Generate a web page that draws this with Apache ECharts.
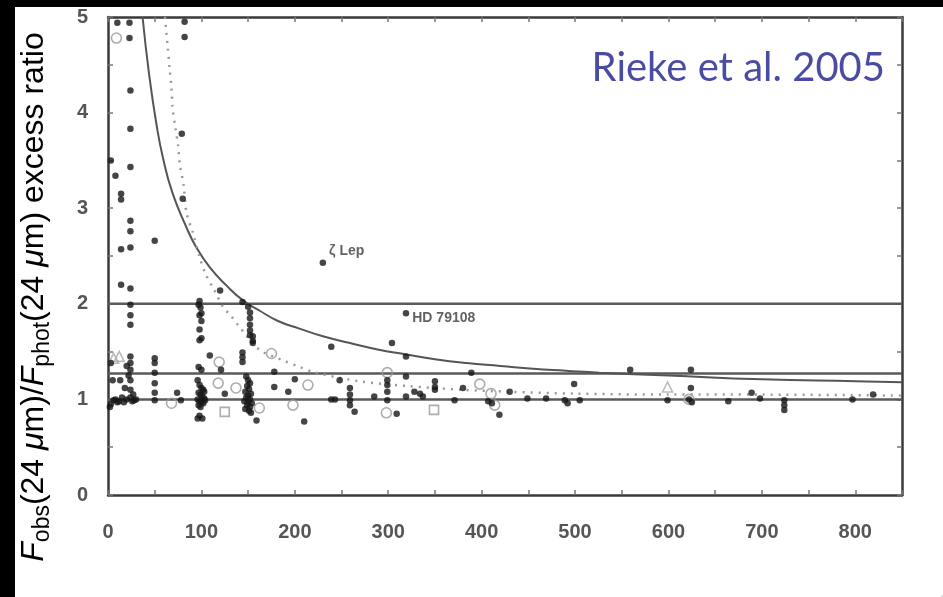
<!DOCTYPE html>
<html>
<head>
<meta charset="utf-8">
<title>24 μm excess ratio vs age</title>
<script src="https://cdn.jsdelivr.net/npm/echarts@6/dist/echarts.min.js"></script>
<style>
  html, body { margin: 0; padding: 0; background: #fff; overflow: hidden; }
  #wrap { position: relative; width: 943px; height: 597px; background: #fff; }
  #chart { position: absolute; left: 0; top: 0; width: 943px; height: 597px; }
  .band { position: absolute; background: #000; }
  /* tiny corner mark keeps the page edge defined */
  #corner { position: fixed; right: 0; bottom: 0; width: 2px; height: 2px; background: #ddd; pointer-events: none; }
</style>
</head>
<body>
<div id="wrap">
  <div id="chart"></div>
  <div class="band" style="left:0;top:0;width:943px;height:7px"></div>
  <div class="band" style="left:0;top:0;width:15px;height:597px"></div>
</div>
<div id="corner"></div>
<script>
// Tick labels
const xTickLabels = [0, 100, 200, 300, 400, 500, 600, 700, 800];
const yTickLabels = [0, 1, 2, 3, 4, 5];

// Horizontal reference levels
const refLevels = [1.0, 1.27, 2.0];

// Upper envelope (solid) and fitted decay (dotted)
const solidCurveX = [37, 44, 52, 59, 69, 84, 94, 109, 127, 144, 162, 182, 205, 230, 259, 290, 319, 350, 384, 420, 455, 490, 526, 600, 700, 800, 850];
const solidCurveY = [5.0, 4.4, 3.87, 3.52, 3.16, 2.8, 2.6, 2.38, 2.19, 2.04, 1.93, 1.82, 1.74, 1.66, 1.59, 1.52, 1.47, 1.42, 1.38, 1.35, 1.32, 1.3, 1.28, 1.25, 1.21, 1.19, 1.18];
const dottedCurveX = [61, 64, 66, 68, 69, 72, 75, 77, 81, 84, 91, 98, 105, 114, 123, 132, 139, 162, 187, 205, 222, 269, 320, 380, 430, 500, 600, 700, 850];
const dottedCurveY = [5.0, 4.68, 4.46, 4.25, 4.06, 3.85, 3.66, 3.45, 3.24, 2.95, 2.74, 2.49, 2.3, 2.14, 1.97, 1.87, 1.78, 1.52, 1.41, 1.34, 1.28, 1.19, 1.14, 1.1, 1.08, 1.06, 1.05, 1.05, 1.04];

// Stars with measured excess (filled)
const starAge = [
  10, 23, 82, 23, 82, 24, 24, 79, 3, 24, 8, 14, 80, 14, 24, 24, 50, 14, 24, 14, 24, 120, 24, 24, 24,
  98, 97, 99, 100, 98, 100, 98, 100, 98,
  144, 150, 152, 152, 152, 152, 152, 155, 144, 144, 144,
  3, 24, 24, 24, 24, 24, 24, 5, 13, 20, 18, 3, 6, 8, 12, 15, 17, 20, 26, 28, 30, 2, 10, 27, 22,
  50, 50, 50, 50, 50, 50, 74, 78,
  109, 97, 100, 96, 98, 100, 102, 97, 99, 101, 103, 96, 98, 100, 102, 104, 97, 99, 96, 101, 98, 103, 121, 125,
  148, 150, 152, 149, 151, 147, 153, 150, 148, 152, 146, 150, 154, 149, 152, 147, 151, 153, 159, 155, 155,
  178, 178, 239, 304, 319,
  200, 193, 210, 248, 239, 243, 259, 259, 259, 259, 264, 285, 299, 299, 299, 299, 309, 319, 319, 328, 334, 337,
  350, 350, 350, 371, 380, 389, 407, 411, 419, 430, 449, 469, 489, 492, 499, 505, 559, 599,
  624, 624, 622, 625, 664, 689, 698, 724, 724, 724, 797, 819
];
const starRatio = [
  4.94, 4.94, 4.95, 4.78, 4.79, 4.23, 3.83, 3.78, 3.5, 3.43, 3.34, 3.15, 3.1, 3.09, 2.87, 2.76, 2.66, 2.57, 2.59, 2.2, 2.16, 2.14, 1.99, 1.88, 1.78,
  2.03, 1.99, 1.96, 1.9, 1.88, 1.82, 1.73, 1.64, 1.62,
  2.02, 1.97, 1.91, 1.85, 1.78, 1.72, 1.67, 1.61, 1.49, 1.44, 1.39,
  1.38, 1.45, 1.38, 1.31, 1.2, 1.1, 1.02, 1.2, 1.2, 1.35, 1.12, 0.95, 0.99, 1.0, 0.98, 1.02, 0.97, 1.0, 0.98, 0.99, 1.0, 0.92, 0.97, 1.05, 1.25,
  1.43, 1.38, 1.28, 1.17, 1.07, 0.99, 1.07, 0.99,
  1.46, 1.34, 1.31, 1.2, 1.15, 1.12, 1.1, 1.07, 1.05, 1.03, 1.01, 1.0, 0.98, 0.97, 0.96, 0.99, 0.94, 0.92, 0.8, 0.8, 0.83, 1.08, 1.31, 1.06,
  1.24, 1.2, 1.17, 1.14, 1.11, 1.08, 1.06, 1.04, 1.02, 1.0, 0.98, 0.97, 0.96, 0.94, 0.92, 0.9, 0.88, 0.86, 0.78, 1.66, 1.59,
  1.29, 1.13, 1.55, 1.59, 1.45,
  1.21, 1.08, 0.77, 1.2, 1.0, 1.0, 1.12, 1.05, 0.99, 0.94, 0.87, 1.03, 1.2, 1.15, 1.08, 0.99, 0.85, 1.24, 1.03, 1.08, 1.06, 1.03,
  1.19, 1.13, 1.1, 0.99, 1.12, 1.28, 0.98, 0.96, 0.84, 1.08, 1.01, 1.01, 0.99, 0.96, 1.16, 0.99, 1.31, 0.99,
  1.31, 1.12, 1.0, 0.97, 0.98, 1.07, 1.01, 0.99, 0.94, 0.89, 1.0, 1.05
];

// Other samples (open symbols)
const circleAge   = [9, 68, 119, 118, 137, 162, 175, 214, 198, 298, 299, 398, 410, 414, 622];
const circleRatio = [4.78, 0.96, 1.39, 1.17, 1.12, 0.91, 1.48, 1.15, 0.94, 0.86, 1.28, 1.16, 1.06, 0.94, 1.0];
const squareAge   = [125, 349];
const squareRatio = [0.87, 0.89];
const triangleAge   = [6, 12, 599];
const triangleRatio = [1.43, 1.45, 1.13];

// Named stars
const namedStars = ['ζ Lep', 'HD 79108'];
const namedAge   = [230, 319];
const namedRatio = [2.43, 1.90];

const zip = (xs, ys) => xs.map((x, i) => [x, ys[i]]);

const chart = echarts.init(document.getElementById('chart'), null, { renderer: 'canvas' });

const tickStyle = { inside: true, length: 5, lineStyle: { color: '#777', width: 1.5 } };
const frameLine = { show: true, onZero: false, lineStyle: { color: '#3a3a3a', width: 2.5 } };
const tickFont = {
  color: '#555', fontSize: 20, fontWeight: 'bold',
  fontFamily: 'Liberation Sans, Arial, sans-serif'
};

const refSeries = refLevels.map(level => ({
  type: 'line',
  data: [[0, level], [850, level]],
  symbol: 'none',
  silent: true,
  lineStyle: { color: '#5a5a5a', width: 2.5 },
  z: 2
}));

chart.setOption({
  animation: false,
  backgroundColor: '#fff',
  grid: { left: 108, right: 41, top: 17, bottom: 102 },
  xAxis: [
    {
      type: 'value', min: 0, max: 850, interval: 50, position: 'bottom',
      axisLine: frameLine, axisTick: tickStyle, splitLine: { show: false },
      axisLabel: Object.assign({
        margin: 27,
        formatter: v => (xTickLabels.includes(v) ? String(v) : '')
      }, tickFont)
    },
    {
      type: 'value', min: 0, max: 850, interval: 50, position: 'top',
      axisLine: frameLine, axisTick: tickStyle, splitLine: { show: false },
      axisLabel: { show: false }
    }
  ],
  yAxis: [
    {
      type: 'value', min: 0, max: 5, interval: 0.5, position: 'left',
      axisLine: frameLine, axisTick: tickStyle, splitLine: { show: false },
      axisLabel: Object.assign({
        margin: 20,
        formatter: v => (yTickLabels.includes(v) ? String(v) : '')
      }, tickFont)
    },
    {
      type: 'value', min: 0, max: 5, interval: 0.5, position: 'right',
      axisLine: frameLine, axisTick: tickStyle, splitLine: { show: false },
      axisLabel: { show: false }
    }
  ],
  series: [
    ...refSeries,
    {
      type: 'line', data: zip(solidCurveX, solidCurveY), symbol: 'none', smooth: true,
      lineStyle: { color: '#555', width: 2 }, z: 3, silent: true
    },
    {
      type: 'line', data: zip(dottedCurveX, dottedCurveY), symbol: 'none', smooth: 0.3,
      lineStyle: { color: '#999', width: 2.5, type: [2, 6] }, z: 3, silent: true
    },
    {
      type: 'scatter', data: zip(circleAge, circleRatio), symbol: 'circle', symbolSize: 10,
      itemStyle: { color: 'rgba(0,0,0,0)', borderColor: '#999', borderWidth: 1.6 }, z: 4
    },
    {
      type: 'scatter', data: zip(squareAge, squareRatio), symbol: 'rect', symbolSize: 9,
      itemStyle: { color: 'rgba(0,0,0,0)', borderColor: '#999', borderWidth: 1.6 }, z: 4
    },
    {
      type: 'scatter', data: zip(triangleAge, triangleRatio), symbol: 'triangle', symbolSize: 10,
      itemStyle: { color: 'rgba(0,0,0,0)', borderColor: '#aaa', borderWidth: 1.6 }, z: 4
    },
    {
      type: 'scatter', data: zip(starAge, starRatio), symbol: 'circle', symbolSize: 6.5,
      itemStyle: { color: '#161616' }, z: 5
    },
    {
      type: 'scatter',
      data: namedStars.map((name, i) => ({
        name: name,
        value: [namedAge[i], namedRatio[i]],
        label: i === 0
          ? { show: true, position: 'right', offset: [0, -12] }
          : { show: true, position: 'right', offset: [0, 5] }
      })),
      symbol: 'circle', symbolSize: 6.5,
      itemStyle: { color: '#161616' },
      label: {
        formatter: p => p.name, color: '#3a3a3a', fontSize: 14, fontWeight: 'bold',
        fontFamily: 'Liberation Sans, Arial, sans-serif', distance: 3
      },
      z: 6
    }
  ],
  graphic: [
    {
      type: 'text', x: 885, y: 68, z: 100,
      style: {
        text: 'Rieke et al. 2005', fill: '#4a4ca3',
        font: '40px Lato, "Open Sans", sans-serif',
        align: 'right', verticalAlign: 'middle'
      }
    },
    {
      type: 'text', x: 34, y: 297, rotation: Math.PI / 2, z: 100,
      style: {
        text: '{i|F}{s|obs}{n|(24 }{i|μ}{n|m)/}{i|F}{s|phot}{n|(24 }{i|μ}{n|m) excess ratio}',
        align: 'center', verticalAlign: 'middle',
        rich: {
          n: { fontSize: 32, fontFamily: 'Liberation Sans, Arial, sans-serif', fill: '#000', lineHeight: 40, verticalAlign: 'middle' },
          i: { fontSize: 32, fontFamily: 'Liberation Sans, Arial, sans-serif', fontStyle: 'italic', fill: '#000', lineHeight: 40, verticalAlign: 'middle' },
          s: { fontSize: 23, fontFamily: 'Liberation Sans, Arial, sans-serif', fill: '#000', lineHeight: 22, verticalAlign: 'bottom' }
        }
      }
    }
  ]
});
</script>
</body>
</html>
